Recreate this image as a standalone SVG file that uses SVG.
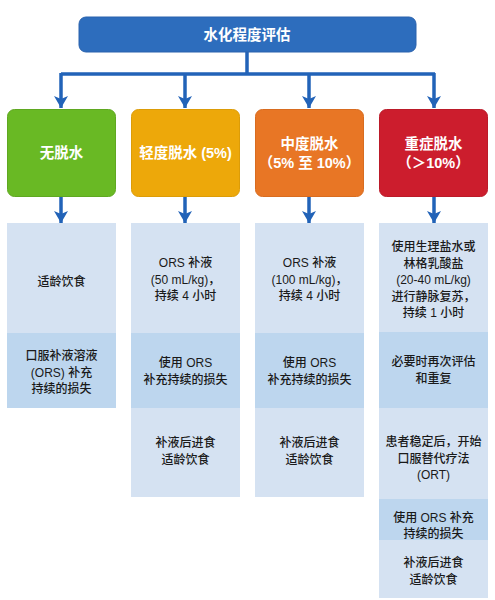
<svg xmlns="http://www.w3.org/2000/svg" width="495" height="600" viewBox="0 0 495 600">
<style>
.t{font-family:"Liberation Sans","Noto Sans CJK SC",sans-serif;text-anchor:middle}
.hd{fill:#fff;font-weight:bold;font-size:14.5px}
.bd{fill:#1a1a1a;font-size:12px;font-weight:500}
.lt{fill:#d5e2f2}
.dk{fill:#bdd6ee}
.cn{stroke:#2263b8;stroke-width:3.5;fill:none}
</style>
<defs>
<marker id="ah" markerUnits="userSpaceOnUse" markerWidth="13" markerHeight="15" refX="12" refY="7.5" orient="auto" viewBox="0 0 13 15">
<path d="M0,0.5 L12,7.5 L0,14.5 L3,7.5 Z" fill="#2263b8"/>
</marker>
</defs>
<rect width="495" height="600" fill="#fff"/>
<g id="connectors">
<path class="cn" d="M247,52 V74 M61,74 H435"/>
<line class="cn" x1="61" y1="73" x2="61" y2="108" marker-end="url(#ah)"/>
<line class="cn" x1="185" y1="74" x2="185" y2="108" marker-end="url(#ah)"/>
<line class="cn" x1="309" y1="74" x2="309" y2="108" marker-end="url(#ah)"/>
<line class="cn" x1="434" y1="73" x2="434" y2="108" marker-end="url(#ah)"/>
<line class="cn" x1="61" y1="197" x2="61" y2="223" marker-end="url(#ah)"/>
<line class="cn" x1="185" y1="197" x2="185" y2="223" marker-end="url(#ah)"/>
<line class="cn" x1="309" y1="197" x2="309" y2="223" marker-end="url(#ah)"/>
<line class="cn" x1="434" y1="197" x2="434" y2="223" marker-end="url(#ah)"/>
</g>
<g id="root">
<rect x="79" y="17" width="337" height="35" rx="7" fill="#2d6dbd" stroke="#2a62ad" stroke-width="1"/>
<text class="t hd" x="247" y="40">水化程度评估</text>
</g>
<g id="none">
<rect x="7.5" y="109.5" width="108" height="87" rx="7" fill="#69b924" stroke="#5fa821"/>
<text class="t hd" x="61.5" y="158">无脱水</text>
</g>
<g id="mild">
<rect x="131.5" y="109.5" width="108" height="87" rx="7" fill="#eda80a" stroke="#dc9c08"/>
<text class="t hd" x="185.5" y="158">轻度脱水 (5%)</text>
</g>
<g id="moderate">
<rect x="255.5" y="109.5" width="108" height="87" rx="7" fill="#e87625" stroke="#d86c20"/>
<text class="t hd" x="309.5" y="149">中度脱水</text>
<text class="t hd" x="309.5" y="168">（5% 至 10%）</text>
</g>
<g id="severe">
<rect x="379.5" y="109.5" width="108" height="87" rx="7" fill="#cc1d2d" stroke="#bb1a29"/>
<text class="t hd" x="433.5" y="149">重症脱水</text>
<text class="t hd" x="433.5" y="168">（＞10%）</text>
</g>
<g id="col1">
<rect class="lt" x="7" y="223" width="109" height="110"/>
<rect class="dk" x="7" y="333" width="109" height="75"/>
<text class="t bd" x="61.5" y="286">适龄饮食</text>
<text class="t bd" x="61.5" y="360">口服补液溶液</text>
<text class="t bd" x="61.5" y="376.5">(ORS) 补充</text>
<text class="t bd" x="61.5" y="393">持续的损失</text>
</g>
<g id="col2">
<rect class="lt" x="131" y="223" width="109" height="110"/>
<rect class="dk" x="131" y="333" width="109" height="75"/>
<rect class="lt" x="131" y="408" width="109" height="89"/>
<text class="t bd" x="185.5" y="267">ORS 补液</text>
<text class="t bd" x="185.5" y="283.5">(50 mL/kg)，</text>
<text class="t bd" x="185.5" y="300">持续 4 小时</text>
<text class="t bd" x="185.5" y="367">使用 ORS</text>
<text class="t bd" x="185.5" y="383.5">补充持续的损失</text>
<text class="t bd" x="185.5" y="447">补液后进食</text>
<text class="t bd" x="185.5" y="463.5">适龄饮食</text>
</g>
<g id="col3">
<rect class="lt" x="255" y="223" width="109" height="110"/>
<rect class="dk" x="255" y="333" width="109" height="75"/>
<rect class="lt" x="255" y="408" width="109" height="89"/>
<text class="t bd" x="309.5" y="267">ORS 补液</text>
<text class="t bd" x="309.5" y="283.5">(100 mL/kg)，</text>
<text class="t bd" x="309.5" y="300">持续 4 小时</text>
<text class="t bd" x="309.5" y="367">使用 ORS</text>
<text class="t bd" x="309.5" y="383.5">补充持续的损失</text>
<text class="t bd" x="309.5" y="447">补液后进食</text>
<text class="t bd" x="309.5" y="463.5">适龄饮食</text>
</g>
<g id="col4">
<rect class="lt" x="379" y="223" width="109" height="109"/>
<rect class="dk" x="379" y="332" width="109" height="76"/>
<rect class="lt" x="379" y="408" width="109" height="91"/>
<rect class="dk" x="379" y="499" width="109" height="41"/>
<rect class="lt" x="379" y="540" width="109" height="58"/>
<text class="t bd" x="433.5" y="251">使用生理盐水或</text>
<text class="t bd" x="433.5" y="267.5">林格乳酸盐</text>
<text class="t bd" x="433.5" y="284">(20-40 mL/kg)</text>
<text class="t bd" x="433.5" y="300.5">进行静脉复苏，</text>
<text class="t bd" x="433.5" y="317">持续 1 小时</text>
<text class="t bd" x="433.5" y="366">必要时再次评估</text>
<text class="t bd" x="433.5" y="382.5">和重复</text>
<text class="t bd" x="433.5" y="446">患者稳定后，开始</text>
<text class="t bd" x="433.5" y="462.5">口服替代疗法</text>
<text class="t bd" x="433.5" y="479">(ORT)</text>
<text class="t bd" x="433.5" y="522">使用 ORS 补充</text>
<text class="t bd" x="433.5" y="538">持续的损失</text>
<text class="t bd" x="433.5" y="567">补液后进食</text>
<text class="t bd" x="433.5" y="583.5">适龄饮食</text>
</g>
</svg>
